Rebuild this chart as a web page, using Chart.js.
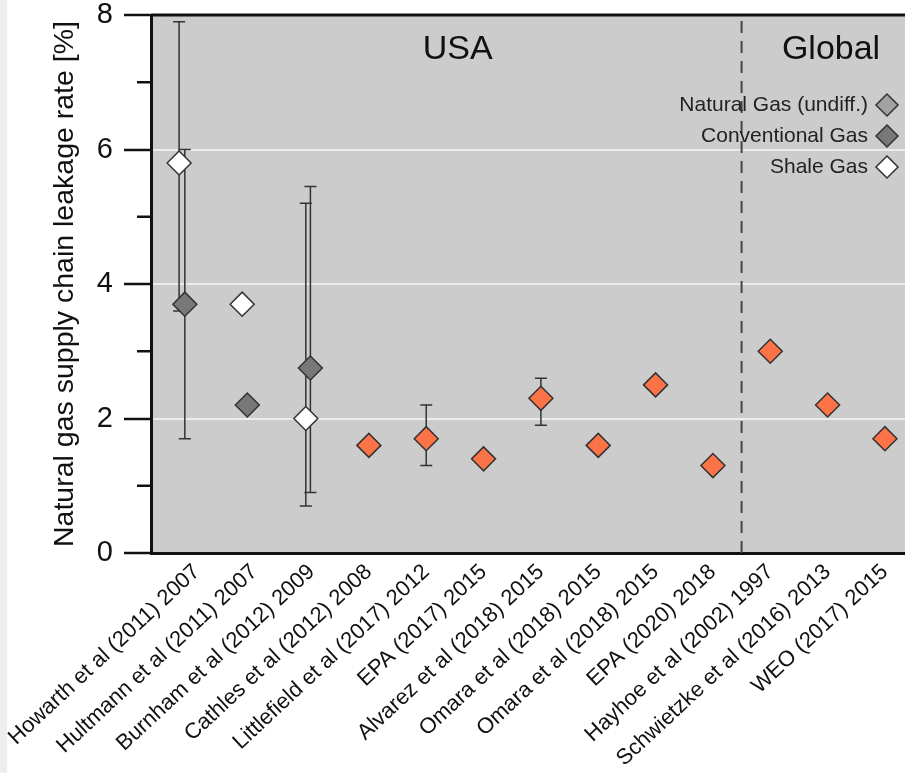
<!DOCTYPE html>
<html>
<head>
<meta charset="utf-8">
<script src="https://cdn.jsdelivr.net/npm/chart.js@4.4.1/dist/chart.umd.min.js"></script>
<style>
    body { margin: 0; background: linear-gradient(to right, #eeeeee 0, #eeeeee 7px, #ffffff 7px); }
    #wrap { width: 905px; height: 773px; }
</style>
</head>
<body>
<div id="wrap"><canvas id="graficoVazamento" width="905" height="773"></canvas></div>
<script>
const estudos = [
    "Howarth et al (2011) 2007", "Hultmann et al (2011) 2007", "Burnham et al (2012) 2009",
    "Cathles et al (2012) 2008", "Littlefield et al (2017) 2012", "EPA (2017) 2015",
    "Alvarez et al (2018) 2015", "Omara et al (2018) 2015", "Omara et al (2018) 2015",
    "EPA (2020) 2018", "Hayhoe et al (2002) 1997", "Schwietzke et al (2016) 2013", "WEO (2017) 2015"
];

// Conventional gas (dark grey) - first three studies, drawn a bit left of the tick
const convX = [-0.21, 0.88, 1.98];
const convY = [3.7, 2.2, 2.75];
const convMin = [1.7, null, 0.9];
const convMax = [6.0, null, 5.45];

// Shale gas (white)
const shaleX = [-0.31, 0.79, 1.9];
const shaleY = [5.8, 3.7, 2.0];
const shaleMin = [3.6, null, 0.7];
const shaleMax = [7.9, null, 5.2];

// Other studies (orange)
const outrosX = [3, 4, 5, 6, 7, 8, 9, 10, 11, 12];
const outrosY = [1.6, 1.7, 1.4, 2.3, 1.6, 2.5, 1.3, 3.0, 2.2, 1.7];
const outrosMin = [null, 1.3, null, 1.9, null, null, null, null, null, null];
const outrosMax = [null, 2.2, null, 2.6, null, null, null, null, null, null];

const yTicks = [0, 2, 4, 6, 8];
const yGrade = [2, 4, 6];
const yMenores = [1, 3, 5, 7];

const legendaNomes = ["Natural Gas (undiff.)", "Conventional Gas", "Shale Gas"];
const legendaCores = ["#a2a2a2", "#787878", "#ffffff"];

const regioes = ["USA", "Global"];
const regioesX = [4.55, 11.06];
const divisaRegioes = 9.5;

const fonte = "'Liberation Sans', Arial, sans-serif";

function pontos(xs, ys, mins, maxs) {
    return xs.map((x, i) => ({ x: x, y: ys[i], lo: mins[i], hi: maxs[i] }));
}

function losango(ctx, x, y, r, cor) {
    ctx.beginPath();
    ctx.moveTo(x, y - r);
    ctx.lineTo(x + r, y);
    ctx.lineTo(x, y + r);
    ctx.lineTo(x - r, y);
    ctx.closePath();
    ctx.fillStyle = cor;
    ctx.fill();
    ctx.stroke();
}

const fundo = {
    id: "fundo",
    beforeDraw(chart) {
        const a = chart.chartArea, ctx = chart.ctx;
        ctx.save();
        ctx.fillStyle = "#cccccc";
        ctx.fillRect(a.left, a.top, a.right - a.left, a.bottom - a.top);
        ctx.restore();
    }
};

const barrasErro = {
    id: "barrasErro",
    beforeDatasetsDraw(chart) {
        const ctx = chart.ctx, sx = chart.scales.x, sy = chart.scales.y, a = chart.chartArea;
        ctx.save();

        // dashed divider USA / Global
        const xd = sx.getPixelForValue(divisaRegioes);
        ctx.strokeStyle = "#444";
        ctx.lineWidth = 2;
        ctx.setLineDash([12, 8]);
        ctx.beginPath();
        ctx.moveTo(xd, a.top + 6);
        ctx.lineTo(xd, a.bottom);
        ctx.stroke();
        ctx.setLineDash([]);

        // error bars
        ctx.strokeStyle = "#333";
        ctx.lineWidth = 1.5;
        chart.data.datasets.forEach(ds => {
            ds.data.forEach(p => {
                if (p.lo == null) return;
                const px = sx.getPixelForValue(p.x);
                const topo = sy.getPixelForValue(p.hi);
                const base = sy.getPixelForValue(p.lo);
                ctx.beginPath();
                ctx.moveTo(px, topo); ctx.lineTo(px, base);
                ctx.moveTo(px - 6, topo); ctx.lineTo(px + 6, topo);
                ctx.moveTo(px - 6, base); ctx.lineTo(px + 6, base);
                ctx.stroke();
            });
        });

        // region names
        ctx.fillStyle = "#111";
        ctx.font = "34px " + fonte;
        ctx.textAlign = "center";
        ctx.textBaseline = "middle";
        regioes.forEach((r, i) => {
            ctx.fillText(r, sx.getPixelForValue(regioesX[i]), sy.getPixelForValue(7.48));
        });
        ctx.restore();
    },
    afterDraw(chart) {
        const ctx = chart.ctx, sy = chart.scales.y, a = chart.chartArea;
        ctx.save();
        // top frame line
        ctx.strokeStyle = "#111";
        ctx.lineWidth = 3;
        ctx.beginPath();
        ctx.moveTo(a.left, a.top);
        ctx.lineTo(a.right, a.top);
        ctx.stroke();

        // minor ticks
        ctx.lineWidth = 2.5;
        yMenores.forEach(v => {
            const py = sy.getPixelForValue(v);
            ctx.beginPath();
            ctx.moveTo(a.left - 14, py);
            ctx.lineTo(a.left, py);
            ctx.stroke();
        });

        // legend: text then marker on the right
        ctx.font = "21px " + fonte;
        ctx.textAlign = "right";
        ctx.textBaseline = "middle";
        ctx.lineWidth = 1.5;
        ctx.strokeStyle = "#333";
        legendaNomes.forEach((nome, i) => {
            const y = a.top + 90 + i * 31;
            ctx.fillStyle = "#222";
            ctx.fillText(nome, a.right - 37, y);
            losango(ctx, a.right - 18, y, 11, legendaCores[i]);
        });
        ctx.restore();
    }
};

const estiloPonto = { pointStyle: "rectRot", pointRadius: 12, pointHoverRadius: 12, borderColor: "#333", borderWidth: 1.5 };

const grafico = new Chart(document.getElementById("graficoVazamento"), {
    type: "scatter",
    data: {
        datasets: [
            Object.assign({ label: "Conventional Gas", data: pontos(convX, convY, convMin, convMax), backgroundColor: "#787878" }, estiloPonto),
            Object.assign({ label: "Shale Gas", data: pontos(shaleX, shaleY, shaleMin, shaleMax), backgroundColor: "#ffffff" }, estiloPonto),
            Object.assign({ label: "Natural Gas", data: pontos(outrosX, outrosY, outrosMin, outrosMax), backgroundColor: "#fb7347" }, estiloPonto)
        ]
    },
    options: {
        responsive: false,
        animation: false,
        layout: { autoPadding: false, padding: { top: 15, left: 0, right: 0, bottom: 0 } },
        plugins: { legend: { display: false }, tooltip: { enabled: false } },
        scales: {
            x: {
                type: "linear",
                min: -0.8,
                max: 12.35,
                afterBuildTicks: s => { s.ticks = estudos.map((e, i) => ({ value: i })); },
                afterFit: s => { s.height = 220; s.paddingLeft = 0; s.paddingRight = 0; },
                ticks: {
                    autoSkip: false,
                    minRotation: 43,
                    maxRotation: 43,
                    padding: 6,
                    color: "#111",
                    font: { family: fonte, size: 22 },
                    callback: v => estudos[v]
                },
                grid: { display: false, drawTicks: false },
                border: { display: true, color: "#111", width: 3 }
            },
            y: {
                min: 0,
                max: 8,
                afterFit: s => { s.width = 151; s.paddingTop = 0; s.paddingBottom = 0; },
                ticks: {
                    stepSize: 1,
                    padding: 11,
                    color: "#111",
                    font: { family: fonte, size: 29 },
                    callback: v => yTicks.includes(v) ? v : ""
                },
                grid: {
                    color: c => yGrade.includes(c.tick.value) ? "#ececec" : "rgba(0,0,0,0)",
                    lineWidth: 2,
                    tickColor: c => yTicks.includes(c.tick.value) ? "#111" : "rgba(0,0,0,0)",
                    tickLength: 27,
                    tickWidth: 2.5
                },
                border: { display: true, color: "#111", width: 3 },
                title: {
                    display: true,
                    text: "Natural gas supply chain leakage rate [%]",
                    color: "#111",
                    font: { family: fonte, size: 28.5 },
                    padding: { top: 48, bottom: 0 }
                }
            }
        }
    },
    plugins: [fundo, barrasErro]
});
</script>
</body>
</html>
